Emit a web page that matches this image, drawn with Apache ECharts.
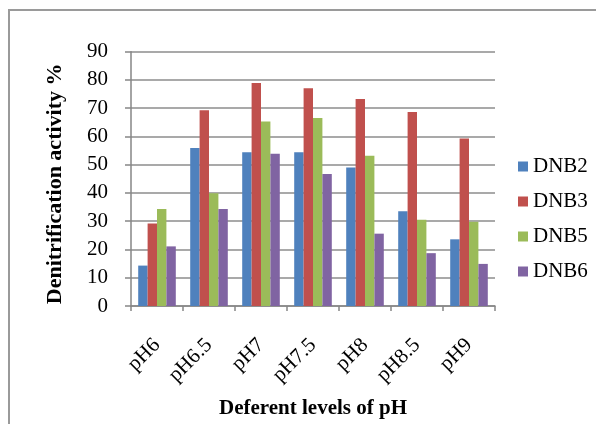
<!DOCTYPE html>
<html>
<head>
<meta charset="utf-8">
<script src="https://cdn.jsdelivr.net/npm/echarts@6/dist/echarts.min.js"></script>
<style>html,body{margin:0;padding:0;background:#fff}#c{width:596px;height:424px}</style>
</head>
<body>
<div id="c"></div>
<script>
const categories = ['pH6', 'pH6.5', 'pH7', 'pH7.5', 'pH8', 'pH8.5', 'pH9'];
const seriesNames = ['DNB2', 'DNB3', 'DNB5', 'DNB6'];
const dnb2 = [14.3, 55.9, 54.4, 54.4, 49.0, 33.5, 23.6];
const dnb3 = [29.2, 69.3, 78.9, 77.1, 73.3, 68.7, 59.3];
const dnb5 = [34.3, 39.9, 65.3, 66.5, 53.2, 30.5, 29.8];
const dnb6 = [21.1, 34.3, 53.9, 46.7, 25.6, 18.7, 14.9];
const colors = ['#4f81bd', '#c0504d', '#9bbb59', '#8064a2'];
const yTicks = [0, 10, 20, 30, 40, 50, 60, 70, 80, 90];

const font = 'Liberation Serif';
const chart = echarts.init(document.getElementById('c'), null, {renderer: 'canvas'});
const allData = [dnb2, dnb3, dnb5, dnb6];
chart.setOption({
  animation: false,
  backgroundColor: '#fff',
  color: colors,
  graphic: [{
    type: 'rect', silent: true,
    shape: {x: 9, y: 10, width: 800, height: 600},
    style: {fill: 'none', stroke: '#9a9a9a', lineWidth: 2}
  }],
  grid: {left: 131, right: 101, top: 51.7, bottom: 114.5, containLabel: false},
  legend: {
    orient: 'vertical', left: 518, top: 156, padding: 0,
    itemWidth: 10, itemHeight: 10, itemGap: 14, itemTextGap: 5,
    icon: 'rect',
    data: seriesNames,
    textStyle: {fontFamily: font, fontSize: 21, color: '#000', lineHeight: 21},
  },
  xAxis: {
    type: 'category', data: categories,
    axisLine: {lineStyle: {color: '#868686', width: 1.5}},
    axisTick: {show: true, length: 5, lineStyle: {color: '#868686', width: 1.5}},
    axisLabel: {rotate: 45, margin: 36, fontFamily: font, fontSize: 21, color: '#000'},
    name: 'Deferent levels of pH', nameLocation: 'middle', nameGap: 92,
    nameTextStyle: {fontFamily: font, fontSize: 21, fontWeight: 'bold', color: '#000'}
  },
  yAxis: {
    type: 'value', min: yTicks[0], max: yTicks[yTicks.length - 1], interval: 10,
    axisLine: {show: true, lineStyle: {color: '#868686', width: 1.5}},
    axisTick: {show: true, length: 6, lineStyle: {color: '#868686', width: 1.5}},
    splitLine: {lineStyle: {color: '#8c8c8c', width: 1.5}},
    axisLabel: {margin: 23, fontFamily: font, fontSize: 21, color: '#000'},
    name: 'Denitrification activity %', nameLocation: 'middle', nameGap: 65, nameRotate: 90,
    nameTextStyle: {fontFamily: font, fontSize: 22, fontWeight: 'bold', color: '#000', padding: [0, 10, 0, 0]}
  },
  series: seriesNames.map((n, i) => ({
    name: n, type: 'bar', data: allData[i],
    barWidth: 9.4, barGap: '0%',
    itemStyle: {color: colors[i]}
  }))
});
</script>
</body>
</html>
